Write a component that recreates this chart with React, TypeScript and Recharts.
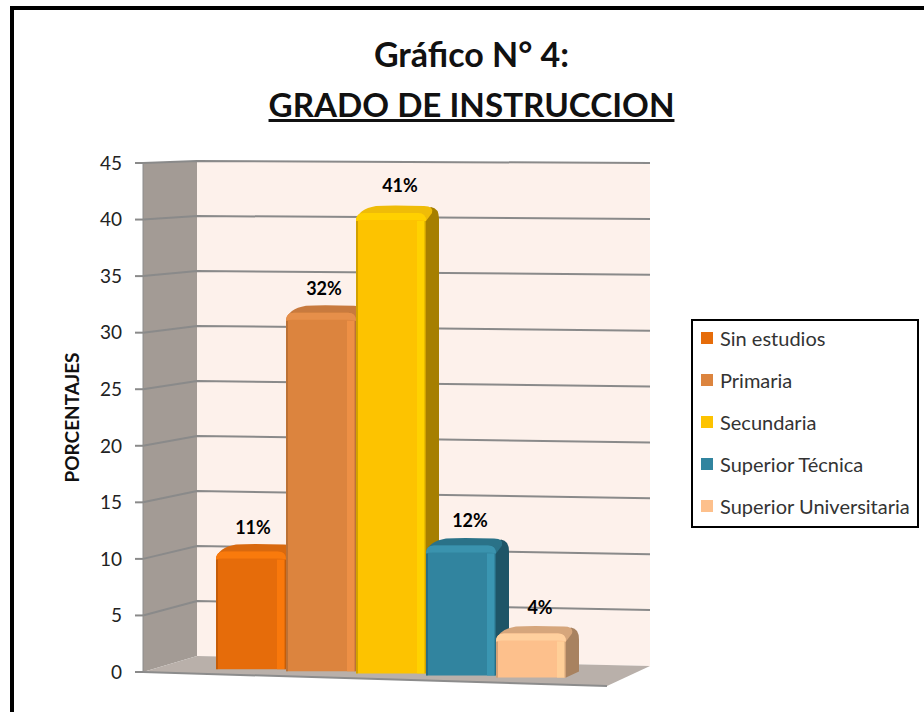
import { BarChart, Bar, XAxis, YAxis, ReferenceArea, ReferenceLine, Legend } from "recharts";

const categories = ["Sin estudios", "Primaria", "Secundaria", "Superior Técnica", "Superior Universitaria"];
const values = [10.4, 31.7, 40.7, 11.5, 3.9];
const valueLabels = ["11%", "32%", "41%", "12%", "4%"];
const yTicks = [0, 5, 10, 15, 20, 25, 30, 35, 40, 45];
const FONT = "Lato, Carlito, sans-serif";

// main face, top bevel, right strip, side wall, top cap
const COLORS = [
  { main: "#e66c0a", bevel: "#f97a0c", strip: "#f9780b", side: "#a44c06", cap: "#d9690e" },
  { main: "#dc843e", bevel: "#e68f4a", strip: "#ee9045", side: "#9c5d2b", cap: "#c87a3e" },
  { main: "#fdc300", bevel: "#ffd000", strip: "#ffd200", side: "#a67f00", cap: "#efbc08" },
  { main: "#31849f", bevel: "#3a93ae", strip: "#3a96b2", side: "#1e5567", cap: "#2a7288" },
  { main: "#fdc08c", bevel: "#ffd09e", strip: "#ffcf98", side: "#a88260", cap: "#d6a67c" },
];

// the labels don't sit exactly over the bars in the original
const LABEL_NUDGE = [
  [37, -20],
  [38, -18],
  [44, -20],
  [44, -15],
  [44, -14],
];

const chartData = [{ name: "Grado", ...Object.fromEntries(categories.map((c, i) => [c, values[i]])) }];

const SIDE_W = 13;
const WALL_DX = 54;

// perspective helpers, the tick y comes from the chart's own scale
const PLOT_TOP = 163;
const PLOT_BOTTOM = 672;
const backY = (y: number) => y - 2 - ((y - PLOT_TOP) / (PLOT_BOTTOM - PLOT_TOP)) * 14;
const rightDrop = (y: number) => 2 + ((y - PLOT_TOP) / (PLOT_BOTTOM - PLOT_TOP)) * 8;

function Walls({ x, y, height }: any) {
  const top = y;
  const bottom = y + height;
  const x2 = x + WALL_DX;
  const xR = 650;
  return (
    <g>
      <polygon points={`${x},${top} ${x2},${backY(top)} ${x2},${backY(bottom)} ${x},${bottom}`} fill="#a39b95" />
      <polygon
        points={`${x2},${backY(top)} ${xR},${backY(top) + rightDrop(top)} ${xR},${backY(bottom) + rightDrop(bottom)} ${x2},${backY(bottom)}`}
        fill="#fdf1eb"
      />
      <polygon
        points={`${x},${bottom} ${x2},${backY(bottom)} ${xR},${backY(bottom) + rightDrop(bottom)} 607,${bottom + 14} `}
        fill="#b9b0aa"
      />
      <line x1={x} y1={bottom} x2={607} y2={bottom + 14} stroke="#8c8c8c" strokeWidth={2} />
    </g>
  );
}

function GridLine({ y1 }: any) {
  const x = 143;
  const x2 = x + WALL_DX;
  const by = backY(y1);
  return (
    <polyline
      points={`${x},${y1} ${x2},${by} 650,${by + rightDrop(y1)}`}
      fill="none"
      stroke="#8a8a8a"
      strokeWidth={2}
    />
  );
}

function Bar3D({ x, y, width, height, index, seriesIndex }: any) {
  const c = COLORS[seriesIndex];
  const dy = (x - 143) * 0.03 - 5;
  const top = y + dy;
  const bottom = y + height + dy;
  const right = x + width;
  const r = 8;
  const h = 7;
  return (
    <g key={index}>
      {/* side face */}
      <path
        d={`M${right - 4},${top} L${right + SIDE_W - 8},${top - h + 1} Q${right + SIDE_W},${top - h + 2} ${right + SIDE_W},${top + 6} L${right + SIDE_W},${bottom - 6} L${right},${bottom} Z`}
        fill={c.side}
      />
      {/* back cap */}
      <path
        d={`M${x},${top + r} Q${x + 2},${top - h + 3} ${x + 20},${top - h} Q${x + 35},${top - h - 1} ${right - 2},${top - h} Q${right + 8},${top - h} ${right + 6},${top} L${right},${top + r} Z`}
        fill={c.cap}
      />
      {/* front face */}
      <path
        d={`M${x},${bottom} L${x},${top + r} Q${x},${top} ${x + r},${top} L${right - r},${top} Q${right},${top} ${right},${top + r} L${right},${bottom} Z`}
        fill={c.main}
      />
      <rect x={x} y={top + r} width={2} height={bottom - top - r} fill={c.side} opacity={0.5} />
      <rect x={right - 9} y={top + r} width={8} height={bottom - top - r} fill={c.strip} />
      <rect x={right - 1.5} y={top + r} width={1.5} height={bottom - top - r} fill={c.side} opacity={0.5} />
      <path
        d={`M${x},${top + r} Q${x},${top} ${x + r},${top} L${right - r},${top} Q${right},${top} ${right},${top + r} Q${right - 4},${top + 7} ${right - 9},${top + 7} L${x + 7},${top + 7} Q${x + 2},${top + 7} ${x},${top + r} Z`}
        fill={c.bevel}
      />
    </g>
  );
}

function BarLabel({ x, y, index, seriesIndex }: any) {
  const [nx, ny] = LABEL_NUDGE[seriesIndex];
  return (
    <text
      key={index}
      x={x + nx}
      y={y + ny}
      textAnchor="middle"
      fontFamily={FONT}
      fontWeight={700}
      fontSize={18}
      fill="#000"
    >
      {valueLabels[seriesIndex]}
    </text>
  );
}

function LegendBox({ payload }: any) {
  return (
    <div
      style={{
        width: 228,
        height: 209,
        border: "2px solid #000",
        background: "#fff",
        padding: "0 0 0 8px",
        boxSizing: "border-box",
        fontFamily: FONT,
        fontSize: 20,
        color: "#333",
      }}
    >
      {(payload ?? []).map((p: any) => (
        <div
          key={p.value}
          style={{ display: "flex", alignItems: "center", gap: 7, whiteSpace: "nowrap", height: 42, position: "relative", top: -4 }}
        >
          <span style={{ width: 12, height: 12, background: p.color, display: "inline-block", flexShrink: 0 }} />
          <span>{p.value}</span>
        </div>
      ))}
    </div>
  );
}

export default function App() {
  return (
    <div style={{ position: "absolute", left: 0, top: 0, width: 924, height: 712, background: "#fff", overflow: "hidden" }}>
      {/* outer frame of the slide */}
      <div style={{ position: "absolute", left: 10, top: 6, width: 950, height: 760, border: "4px solid #000", boxSizing: "border-box" }} />
      <div
        style={{
          position: "absolute",
          left: 0,
          top: 29,
          width: 943,
          textAlign: "center",
          fontFamily: FONT,
          fontWeight: 700,
          fontSize: 34,
          lineHeight: "50px",
          color: "#111",
        }}
      >
        Gráfico N° 4:
        <br />
        <span style={{ textDecoration: "underline", fontSize: 33.2 }}>GRADO DE INSTRUCCION</span>
      </div>
      <BarChart
        width={924}
        height={712}
        data={chartData}
        margin={{ top: 163, right: 57, bottom: 40, left: 63 }}
        barCategoryGap={0}
        barGap={0}
        barSize={70}
        style={{ position: "absolute", left: 0, top: 0 }}
      >
        <XAxis dataKey="name" hide />
        <YAxis
          domain={[0, 45]}
          ticks={yTicks}
          width={80}
          interval={0}
          axisLine={{ stroke: "#8c8c8c", strokeWidth: 1 }}
          tick={{ fill: "#222", fontSize: 19, fontFamily: FONT }}
          tickLine={{ stroke: "#8a8a8a", strokeWidth: 2 }}
          tickSize={8}
          tickMargin={13}
          label={{
            value: "PORCENTAJES",
            angle: -90,
            position: "left",
            offset: -1,
            dy: -65,
            dx: 8,
            style: { fontFamily: FONT, fontWeight: 700, fontSize: 19, fill: "#111" },
          }}
        />
        <ReferenceArea y1={0} y2={45} shape={<Walls />} ifOverflow="visible" zIndex={100} />
        {yTicks.slice(1).map((t) => (
          <ReferenceLine key={t} y={t} shape={<GridLine />} ifOverflow="visible" zIndex={100} />
        ))}
        {categories.map((c, i) => (
          <Bar
            key={c}
            dataKey={c}
            fill={COLORS[i].main}
            isAnimationActive={false}
            shape={(props: any) => <Bar3D {...props} seriesIndex={i} />}
            label={(props: any) => <BarLabel {...props} seriesIndex={i} />}
          />
        ))}
        <Legend
          layout="vertical"
          align="right"
          verticalAlign="top"
          itemSorter={null}
          content={<LegendBox />}
          wrapperStyle={{ position: "absolute", left: 691, top: 319, width: 229, right: "auto", bottom: "auto" }}
        />
      </BarChart>
    </div>
  );
}
